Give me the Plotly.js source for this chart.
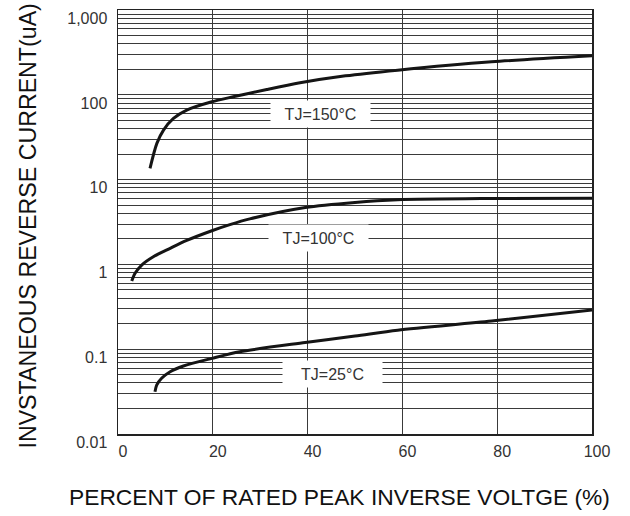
<!DOCTYPE html>
<html>
<head>
<meta charset="utf-8">
<script src="https://cdn.plot.ly/plotly-3.0.1.min.js"></script>
<style>html,body{margin:0;padding:0;background:#fff;}#chart{width:630px;height:516px;}</style>
</head>
<body>
<div id="chart"></div>
<script>
// Percent of rated peak inverse voltage (%)
const x150 = [6.75, 8.2, 9.6, 11.7, 14.5, 19.8, 24.3, 31.4, 38.4, 48, 59, 78.8, 100];
const y150 = [13.6, 26.8, 38.5, 52.8, 66.2, 83, 95, 116, 139, 168, 196, 246, 290];

const x100 = [2.9, 3.6, 5.0, 7.45, 11.0, 14.5, 19.8, 23.6, 27.8, 39.5, 50, 59, 78.8, 100];
const y100 = [0.637, 0.786, 0.984, 1.233, 1.55, 1.92, 2.5, 2.95, 3.45, 4.7, 5.4, 5.8, 6.0, 6.05];

const x25 = [7.8, 8.16, 9.2, 11.0, 13.8, 19.8, 25.7, 39.5, 50, 59, 78.8, 100];
const y25 = [0.0315, 0.0378, 0.0454, 0.0543, 0.0634, 0.078, 0.0935, 0.12, 0.143, 0.168, 0.215, 0.29];

const curveLabels = ["TJ=150°C", "TJ=100°C", "TJ=25°C"];
const labelX = [42.8, 42.4, 45.3];
const labelY = [60, 2.05, 0.051];

const yTickVals = [0.01, 0.1, 1, 10, 100, 1000];
const yTickText = ["0.01", "0.1", "1", "10", "100", "1,000"];
const xTickVals = [0, 20, 40, 60, 80, 100];
const xTickText = ["0", "20", "40", "60", "80", "100"];

const xTitle = 'PERCENT OF RATED PEAK INVERSE VOLTGE (%)';
const yTitle = 'INVSTANEOUS REVERSE CURRENT(uA)';

const line = {color: '#151515', width: 3, shape: 'spline', smoothing: 0.8};
const traces = [
  {x: x150, y: y150, mode: 'lines', line: line, hoverinfo: 'skip'},
  {x: x100, y: y100, mode: 'lines', line: line, hoverinfo: 'skip'},
  {x: x25, y: y25, mode: 'lines', line: line, hoverinfo: 'skip'}
];

const fam = '"Liberation Sans", Arial, sans-serif';
const gridColor = '#3a3a3a';

const annotations = curveLabels.map((t, i) => ({
  x: labelX[i], y: Math.log10(labelY[i]), xref: 'x', yref: 'y',
  text: t, showarrow: false, bgcolor: '#ffffff',
  width: 97, height: 24,
  font: {family: fam, size: 16, color: '#333'}
}));
annotations.push({
  text: xTitle, xref: 'paper', yref: 'paper', x: 0.468, y: -0.1486,
  xanchor: 'center', yanchor: 'middle', showarrow: false,
  font: {family: fam, size: 22.8, color: '#111'}
});
annotations.push({
  text: yTitle, xref: 'paper', yref: 'paper', x: -0.1888, y: 0.4905,
  xanchor: 'center', yanchor: 'middle', showarrow: false, textangle: -90,
  font: {family: fam, size: 23.2, color: '#111'}
});

const layout = {
  width: 630, height: 516,
  margin: {l: 118, r: 38, t: 10, b: 82},
  paper_bgcolor: '#fff', plot_bgcolor: '#fff',
  showlegend: false,
  font: {family: fam, color: '#333'},
  xaxis: {
    range: [0, 100],
    tickvals: xTickVals, ticktext: xTickText,
    showgrid: true, gridcolor: gridColor, gridwidth: 1,
    zeroline: false,
    showline: true, linecolor: '#222', linewidth: 1.5, mirror: true,
    ticks: '', ticklabelshift: 5, ticklabelstandoff: 2, ticklabeloverflow: 'allow',
    tickfont: {family: fam, size: 16, color: '#333'}
  },
  yaxis: {
    type: 'log', range: [-2, 3.002],
    tickvals: yTickVals, ticktext: yTickText,
    showgrid: true, gridcolor: gridColor, gridwidth: 1,
    minor: {dtick: 'D1', showgrid: true, gridcolor: gridColor, gridwidth: 1, ticks: ''},
    zeroline: false,
    showline: true, linecolor: '#222', linewidth: 1.5, mirror: true,
    ticks: '', ticklabelshift: 8, ticklabelstandoff: 6, ticklabeloverflow: 'allow',
    tickfont: {family: fam, size: 16, color: '#333'}
  },
  annotations: annotations
};

Plotly.newPlot('chart', traces, layout, {staticPlot: true, displayModeBar: false});
</script>
</body>
</html>
